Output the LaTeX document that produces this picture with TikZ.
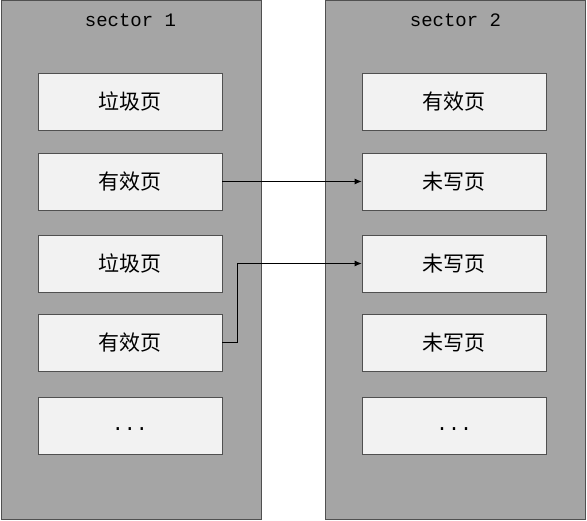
\documentclass[tikz,border=0pt]{standalone}
\usepackage{fontspec}
\setmonofont{Liberation Mono}
\newfontfamily\cjk{Noto Sans CJK SC}
\usetikzlibrary{positioning,arrows.meta}
\definecolor{sectorgray}{HTML}{A5A5A5}
\definecolor{pagegray}{HTML}{F2F2F2}
\definecolor{edgegray}{HTML}{505050}
\tikzset{
  sectorbox/.style={draw=edgegray, fill=sectorgray, line width=1pt, minimum width=260pt, minimum height=519pt, anchor=north west, inner sep=0pt},
  pagebox/.style={draw=edgegray, fill=pagegray, line width=0.8pt, minimum width=184pt, minimum height=57pt, inner sep=0pt, font=\cjk\fontsize{21}{24}\selectfont},
  title/.style={font=\ttfamily\fontsize{19}{22}\selectfont, inner sep=0pt},
  move/.style={-{Latex[length=7pt,width=6pt]}, line width=0.8pt}
}
\newcommand{\moredots}{{\ttfamily\fontsize{20}{24}\selectfont\vphantom{Ag}...}}
\begin{document}
\begin{tikzpicture}[x=1pt,y=-1pt]
  \useasboundingbox (0,0) rectangle (587,521);
  \node[sectorbox] (s1) at (0.5,0.5) {};
  \node[sectorbox] (s2) at (325,0.5) {};
  \node[title] (t1) at (130.5,20) {sector 1};
  \node[title] (t2) at (455.5,20) {sector 2};
  % left sector pages
  \node[pagebox] (a1) at (130,101.5) {垃圾页};
  \node[pagebox] (a2) at (130,181.5) {有效页};
  \node[pagebox] (a3) at (130,263.5) {垃圾页};
  \node[pagebox] (a4) at (130,342.5) {有效页};
  \node[pagebox] (a5) at (130,425.5) {\moredots};
  % right sector pages
  \node[pagebox] (b1) at (454,101.5) {有效页};
  \node[pagebox] (b2) at (454,181.5) {未写页};
  \node[pagebox] (b3) at (454,263.5) {未写页};
  \node[pagebox] (b4) at (454,342.5) {未写页};
  \node[pagebox] (b5) at (454,425.5) {\moredots};
  \coordinate (bend) at (237,263.5);
  \draw[move] (a2) -- (b2);
  \draw[move] (a4.east) -| (bend) -- (b3.west);
\end{tikzpicture}
\end{document}
